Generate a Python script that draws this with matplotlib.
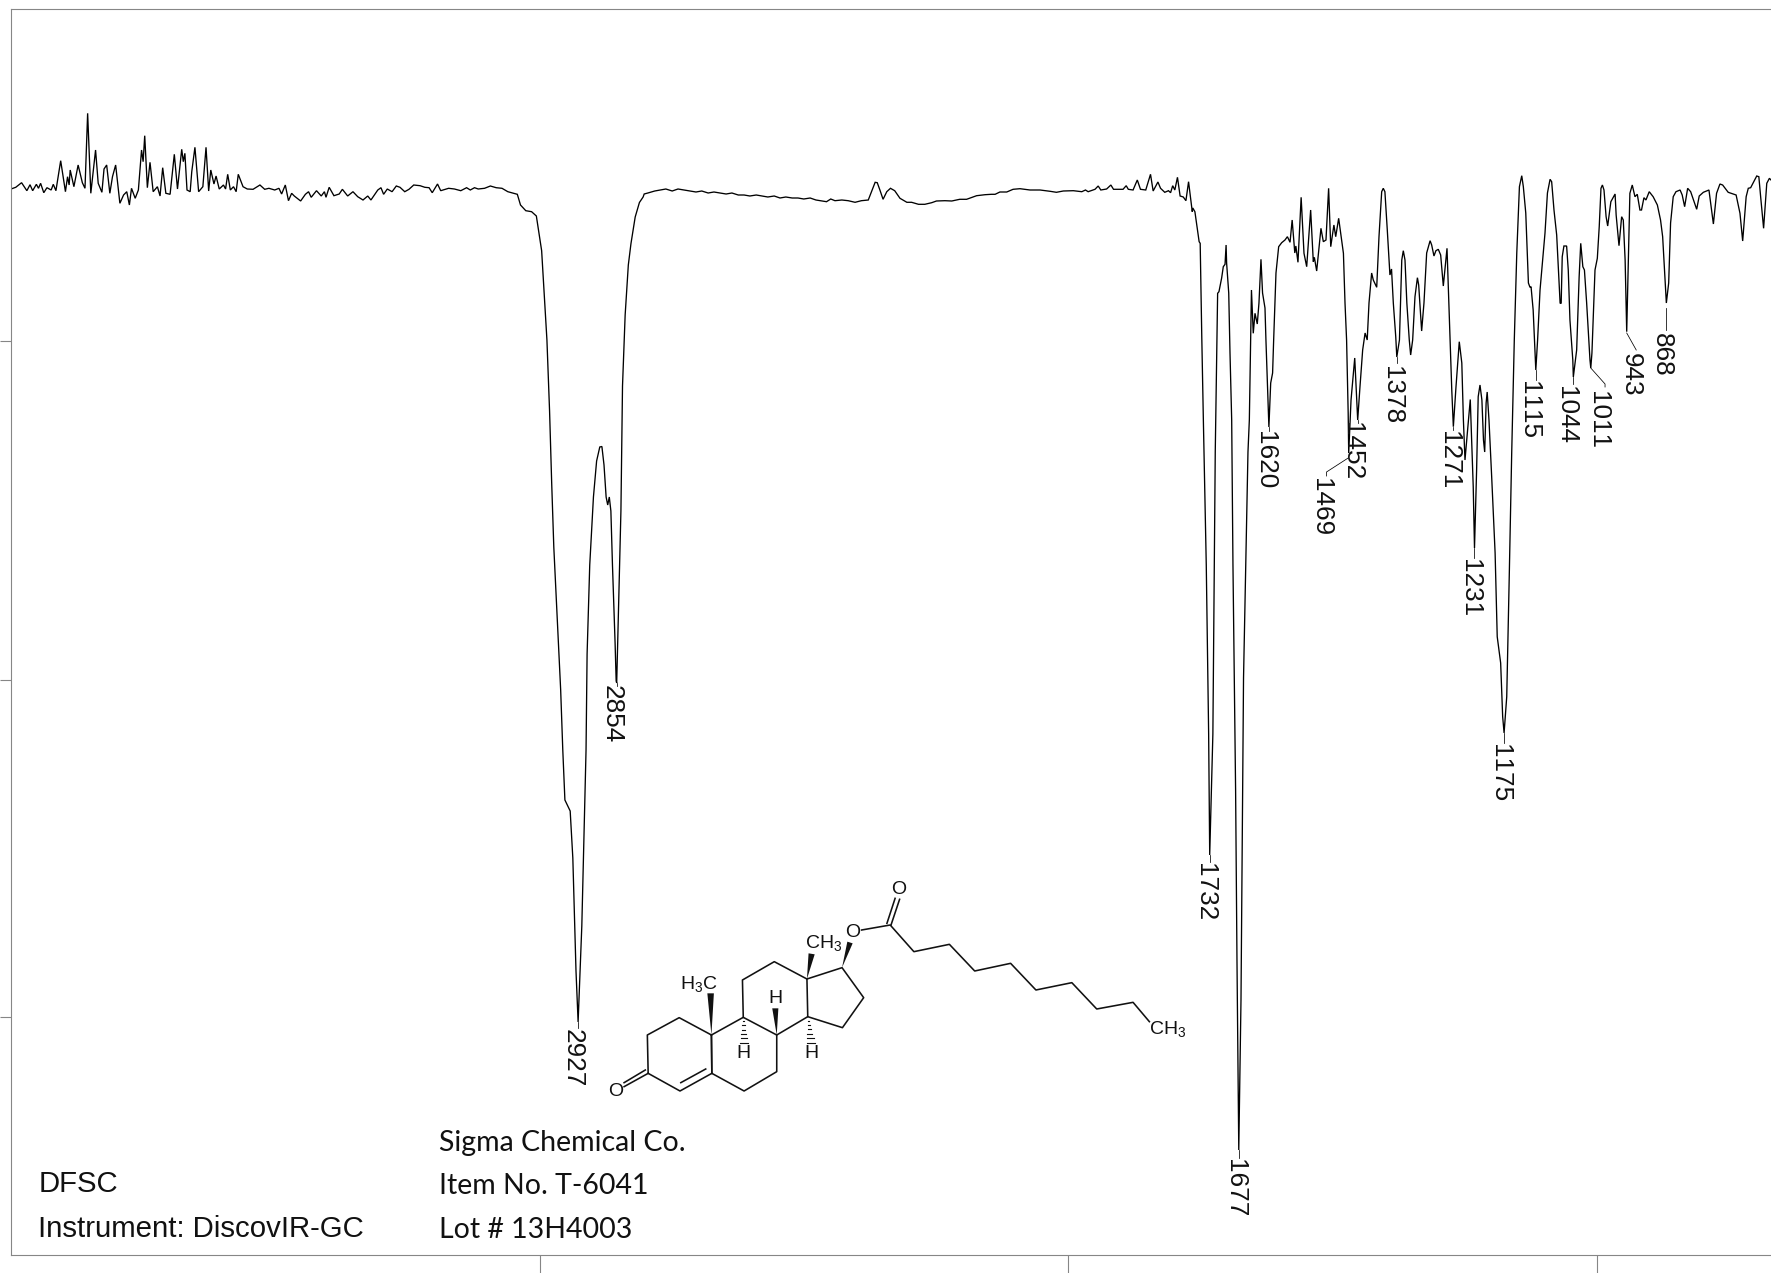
import matplotlib
matplotlib.use('Agg')
import matplotlib.pyplot as plt
import numpy as np

plt.rcParams['font.family'] = ['Liberation Sans', 'DejaVu Sans']
plt.rcParams['mathtext.fontset'] = 'custom'
plt.rcParams['mathtext.rm'] = 'Liberation Sans'
plt.rcParams['mathtext.default'] = 'regular'
plt.rcParams['text.kerning_factor'] = 6

# the scan has no y scale printed, so depth is just measured downward on the page
baseline_wn = [4000, 3991, 3980, 3970, 3964, 3959, 3952, 3948, 3944, 3938, 3932, 3924, 3920, 3915, 3906, 3897,
               3893, 3890, 3888, 3881, 3873, 3865, 3860, 3855, 3849, 3840, 3835, 3828, 3824, 3819, 3813, 3808,
               3802, 3794, 3787, 3781, 3776, 3772, 3765, 3759, 3753, 3750, 3747, 3742, 3737, 3731, 3723, 3718,
               3713, 3707, 3699, 3691, 3685, 3677, 3674, 3671, 3667, 3661, 3658, 3652, 3645, 3637, 3631, 3626,
               3622, 3616, 3612, 3606, 3598, 3594, 3590, 3585, 3579, 3574, 3570, 3561, 3553, 3542, 3529, 3520,
               3512, 3501, 3493, 3488, 3481, 3475, 3469, 3464, 3452, 3443, 3437, 3432, 3422, 3413, 3407, 3404,
               3398, 3389, 3379, 3373, 3363, 3353, 3344, 3334, 3325, 3319, 3306, 3300, 3295, 3288, 3279, 3271,
               3264, 3255, 3247, 3238, 3226, 3217, 3209, 3203, 3193, 3187, 3172, 3161, 3149, 3138, 3131, 3123,
               3116, 3104, 3093, 3082, 3071, 3060, 3042, 3036, 3026, 3015, 3006]
baseline_depth = [189, 187.3, 182.7, 190.7, 184.7, 190.7, 184.3, 188.3, 183.3, 192.7, 187.7, 190, 184.3, 190.7, 160.7, 191.7,
                  176.7, 185, 170, 186.7, 165, 182.7, 188.3, 113.3, 193.3, 150, 183.3, 192.3, 169, 165, 193.3, 176.7,
                  165, 203.3, 195, 191.7, 205, 188.3, 198.3, 190, 150, 161.7, 135.7, 187.7, 162.3, 191.7, 186.7, 196,
                  167.7, 193.3, 194.3, 154.3, 189, 149.3, 161.7, 153.3, 190, 191.7, 171.7, 147.3, 191.7, 186.7, 147.3, 191,
                  170, 184, 176, 189, 185, 189, 174.3, 190, 186.7, 191.7, 174.3, 186.7, 189, 189.3, 185, 189.3,
                  188.3, 190, 188.3, 194, 185, 200.7, 193.3, 196, 201, 194.3, 191.7, 197.3, 190.7, 196, 191.7, 197.3,
                  187.3, 195.7, 194, 189.3, 196, 191.7, 196.7, 200, 196, 200, 190, 187.7, 194.3, 189, 191.7, 186,
                  187.3, 191.7, 189.3, 185, 185.7, 187.3, 187.7, 192.7, 184, 190.7, 188.3, 189, 190.7, 187.7, 190, 187.7,
                  189, 188.3, 186, 187.7, 188.3, 191.7, 194.3, 205, 210.7, 211.7, 216]

ch_wn = [2996, 2992, 2986, 2981, 2977, 2973, 2964, 2960, 2956, 2952, 2942, 2937, 2931, 2927, 2920, 2912, 2910, 2905,
         2898, 2892, 2886, 2882, 2878, 2874, 2871, 2868, 2865, 2862, 2857, 2855, 2854, 2851, 2846, 2843, 2838, 2832,
         2827, 2819, 2811, 2804, 2802, 2795, 2782]
ch_depth = [250.7, 286.4, 340, 411, 483, 547, 647, 690, 750, 800, 811, 858, 971, 1022, 926, 750, 654, 565,
            497, 461, 447, 446.5, 465, 497, 505, 497, 511, 565, 643.6, 681, 683, 618.6, 511, 386, 315, 265,
            243.6, 217, 202.5, 197, 194, 193, 191]

plateau_wn = [2772, 2761, 2749, 2738, 2727, 2715, 2704, 2693, 2681, 2670, 2659, 2647, 2636, 2624, 2613, 2602, 2590,
              2579, 2568, 2556, 2545, 2534, 2522, 2511, 2500, 2488, 2477, 2469, 2457, 2449, 2441, 2428, 2416, 2403,
              2391, 2378, 2372, 2365, 2361, 2356, 2350, 2343, 2336, 2328, 2318, 2305, 2296, 2283, 2271, 2258, 2249,
              2233, 2220, 2205, 2192, 2173, 2157, 2145, 2138, 2129, 2116, 2104, 2091, 2072, 2053, 2034, 2022, 2009,
              1990, 1974, 1967, 1962, 1949, 1943, 1938, 1927, 1919, 1914, 1896, 1890, 1886, 1877, 1869, 1863, 1853,
              1844, 1839, 1830, 1825, 1817, 1810, 1806, 1802, 1798, 1793]
plateau_depth = [190, 189, 191, 189, 190, 191, 192, 191, 193, 192, 193, 194, 193, 195, 195, 196, 195,
                 196, 197, 196, 198, 197, 198, 198, 199, 198, 200, 200.7, 201.7, 199, 200.7, 200, 200.7, 202.3,
                 200.7, 200, 191.7, 182.3, 182.7, 190, 199.3, 191.7, 188.3, 190.7, 198.3, 202.3, 202.3, 204.3, 204.3, 202.7, 201,
                 200.7, 201, 199.3, 199.3, 195.7, 194.7, 194.3, 194.3, 192, 192, 189.3, 188.7, 190, 190, 191.3, 192.3, 191,
                 190.7, 191.7, 190, 191.7, 189.3, 186, 190, 189, 185, 189.3, 189.3, 185.7, 189.3, 190, 180, 189.3, 190,
                 174.3, 191, 182, 188.3, 192.3, 190.7, 192.7, 185.7, 190, 177.3]

finger_wn = [1788, 1782, 1777, 1772, 1765, 1764, 1760, 1752, 1750, 1747, 1744, 1738.5, 1734, 1732, 1726, 1721.5, 1717, 1714.5,
             1709.4, 1706.3, 1703, 1701, 1700, 1696, 1693.6, 1690.4, 1688, 1683, 1680.4, 1677, 1672.8, 1668, 1659.6, 1657, 1653,
             1649.6, 1646.3, 1642, 1638.8, 1635, 1632, 1627.4, 1625.6, 1620, 1616.6, 1613, 1611, 1606.6, 1601.5, 1595.8, 1589.6,
             1585, 1580, 1576, 1571, 1569, 1565, 1559, 1553.6, 1548.5, 1541, 1536, 1534, 1529.6, 1521.5, 1517, 1512, 1507, 1503,
             1497, 1493.6, 1488, 1479, 1476, 1473, 1470, 1469, 1464.6, 1457.6, 1454, 1452, 1447.7, 1442.6, 1438, 1434, 1430.6,
             1425.6, 1422.5, 1416, 1411.7, 1406.6, 1403.6, 1400.5, 1396, 1391, 1388, 1384.6, 1380, 1378, 1373, 1368.6, 1365.7,
             1362.5, 1359, 1354.4, 1351.8, 1348, 1343.6, 1339, 1336.6, 1331, 1326.6, 1321.5, 1315, 1312, 1307.7, 1304, 1299.5,
             1295, 1290, 1283, 1277.4, 1274, 1271, 1266, 1259.8, 1255, 1252, 1249, 1243, 1239, 1233.4, 1231, 1227, 1224, 1220.6,
             1217, 1214, 1211.7, 1209, 1207, 1203.6, 1198.5, 1192, 1188, 1181.5, 1177.7, 1175, 1170, 1165, 1160.6, 1155.7, 1151,
             1146, 1141.6, 1138.6, 1134, 1129, 1126, 1124, 1120, 1115, 1111.6, 1107, 1102, 1097.6, 1093, 1088, 1085, 1080.6,
             1075.5, 1069, 1067, 1065, 1061.8, 1056.7, 1053.6, 1050.4, 1045, 1044, 1037.7, 1033, 1030, 1026, 1023, 1018.8, 1012.5,
             1011, 1008.8, 1003, 998.6, 995, 991.7, 989, 986, 982, 979, 973, 965, 963, 957.6, 952.6, 949.5, 946, 943, 940, 937,
             932.5, 927.4, 923, 918, 915, 910.4, 906.6, 900.4, 893, 885, 879, 875, 868, 863.6, 860, 855, 849.8, 842, 838, 833.4,
             827.7, 822, 810.6, 805.8, 798, 787.4, 779, 773, 766.6, 761.5, 751, 736, 728.7, 723.6, 717, 713, 708.5, 697, 693,
             689.6, 684, 678, 673, 670]
finger_depth = [196, 197, 200.7, 181.7, 211.7, 208, 211.7, 241.7, 243.3, 336.7, 420, 565, 734, 855, 734, 452, 293.3, 291.7,
                278, 266.7, 264.3, 245, 263, 293, 353, 420, 565, 790, 960, 1150, 1000, 678, 452, 420, 290,
                333.3, 313.3, 324, 303, 259.3, 293, 308, 340, 427, 383, 373, 340, 273, 246.7, 242.7, 240,
                236.7, 242.3, 220, 253, 246, 262.3, 197.3, 253.3, 266.7, 210, 261.7, 257.3, 271, 228.3, 241.7, 240, 188.3, 246.7,
                225, 236.7, 218.3, 253.3, 303, 340, 413, 453, 400, 358, 397, 420, 387, 350, 333, 340, 303,
                273, 280, 287.3, 236.7, 191.7, 188.3, 191.7, 230, 275, 269, 303, 336.7, 357, 340, 260, 250.7,
                260, 303, 340, 355, 340, 296.7, 277.7, 285, 331, 303, 253, 240.7, 245, 256, 250.7, 249.3,
                255, 286, 248.3, 336.7, 390, 426.7, 386.7, 341.7, 363, 420, 460, 423, 399.5, 486.7, 548, 470, 396.7, 385,
                400, 440, 452, 403, 392, 420, 476.7, 553, 636.7, 663, 716.7, 733, 696.7, 570, 453, 340, 253,
                186.7, 175.7, 186.7, 213, 283, 287.3, 286.7, 310, 370, 340, 290, 260, 233, 193, 179.3, 181.7, 210,
                235, 303.3, 303.3, 256.7, 246, 246, 270, 320, 360, 377, 350, 276.7, 243.3, 266.7, 270, 303, 360,
                368, 353, 270, 258.3, 226.7, 188.3, 185, 190, 216.7, 226, 201.7, 194, 215, 245.7, 216.7, 220, 260, 331.7, 260, 193.3,
                185, 196.7, 194.3, 210, 210, 197.7, 200, 191.7, 196.7, 205, 220, 236.7, 303, 283, 223, 196.7, 191.7, 190, 195, 206.7,
                188.3, 191.7, 209.3, 196, 192.3, 190, 224, 193.3, 184, 185, 192.3, 195, 213.3, 241, 196.7, 188.3, 187.7, 176, 176.7,
                196.7, 228.3, 183.3, 178.3, 180]

# peak labels: text, x of the label, top of the label, then the leader line
peak_text = ['2927', '2854', '1732', '1677', '1620', '1469', '1452', '1378', '1271', '1231', '1175', '1115', '1044', '1011', '943', '868']
label_wn = [2937, 2864, 1740, 1685, 1628, 1522, 1462, 1387, 1279, 1240, 1183, 1128, 1057, 997, 936, 876]
label_top = [1029, 685, 863, 1159, 431, 478, 422, 366, 431, 559, 744, 381, 386, 391, 353, 333]
leader_wn = [[2927, 2927], [2854, 2854], [1732, 1732], [1677, 1677], [1620, 1620], [1470, 1511, 1511], [1452, 1452], [1378, 1378],
             [1271, 1271], [1231, 1231], [1175, 1175], [1115, 1115], [1044, 1044], [1011, 984, 984], [943, 925], [868, 868]]
leader_depth = [[1022, 1028], [683, 686], [855, 862], [1150, 1158], [427, 431], [458, 472, 476], [420, 423], [357, 363],
                [427, 430], [548, 558], [733, 743], [370, 380], [377, 384], [368, 384, 387], [333, 350], [308, 330]]

wn = baseline_wn + ch_wn + plateau_wn + finger_wn
depth = baseline_depth + ch_depth + plateau_depth + finger_depth

# molecule sketch, traced in its own units
ring_bonds = [[(167, 640), (165, 525), (243, 473), (322, 525), (323, 640), (402, 693), (482, 635), (482, 525), (400, 472), (322, 525)],
              [(323, 640), (322, 525)], [(323, 640), (245, 693), (167, 640)], [(400, 472), (398, 360), (476, 305), (556, 357), (558, 470), (482, 525)],
              [(556, 357), (642, 323), (695, 413), (643, 503), (558, 470)],
              [(247, 668), (308, 627)], [(167, 640), (108, 680)], [(160, 630), (108, 668)],
              [(690, 210), (760, 195), (818, 275), (905, 253), (967, 333), (1055, 310), (1117, 390), (1205, 368), (1266, 447), (1355, 427), (1395, 485)],
              [(762, 195), (783, 118)], [(752, 190), (772, 115)]]
wedges = [[(322, 525), (312, 400), (328, 400)], [(482, 525), (471, 445), (486, 445)], [(556, 357), (560, 280), (575, 283)], [(642, 323), (655, 245), (668, 250)]]
hashes = [((400, 472), (402, 548)), ((558, 470), (566, 548))]
atoms = [('O', 87, 695), ('O', 668, 217), ('O', 782, 90), ('H$_3$C', 292, 372), ('CH$_3$', 597, 250), ('H', 478, 416), ('H', 400, 582), ('H', 566, 580), ('CH$_3$', 1440, 508)]

fig = plt.figure(figsize=(17.71, 12.73), dpi=100)
ax = fig.add_axes([11 / 1771, 18 / 1273, 1760 / 1771, 1246 / 1273])
ax.plot(wn, depth, color='black', lw=0.95, solid_joinstyle='miter')
ax.set_xlim(4000, 670)
ax.set_ylim(1255, 9)
ax.set_xticks([3000, 2000, 1000])
ax.set_yticks([341, 680, 1017])
ax.set_xticklabels([])
ax.set_yticklabels([])
ax.tick_params(axis='x', direction='out', length=13, width=0.8, color='#868686')
ax.tick_params(axis='y', direction='out', length=8, width=0.8, color='#868686')
ax.spines['right'].set_visible(False)
for s in ['left', 'top', 'bottom']:
    ax.spines[s].set_color('#868686')
    ax.spines[s].set_linewidth(0.8)

for i in range(len(peak_text)):
    ax.plot(leader_wn[i], leader_depth[i], color='black', lw=0.55)
    ax.text(label_wn[i], label_top[i], peak_text[i], rotation=270, ha='center', va='top', fontsize=18.8, color='#111111')

ax.text(3948, 1192, 'DFSC', fontsize=21.2, va='baseline', color='#111111')
ax.text(3948, 1237, 'Instrument: DiscovIR-GC', fontsize=21.2, va='baseline', color='#111111')
ax.text(3190, 1151, 'Sigma Chemical Co.', fontsize=20.5, va='baseline', family='Lato', color='#111111')
ax.text(3190, 1194, 'Item No. T-6041', fontsize=20.5, va='baseline', family='Lato', color='#111111')
ax.text(3190, 1238, 'Lot # 13H4003', fontsize=20.5, va='baseline', family='Lato', color='#111111')

mol = fig.add_axes([0, 0, 1, 1])
mol.patch.set_alpha(0)
mol.axis('off')
mol.set_xlim(-580 * 2.45, (1771 - 580) * 2.45)
mol.set_ylim((1273 - 860) * 3, -860 * 3)
for b in ring_bonds:
    mol.plot([p[0] for p in b], [p[1] for p in b], color='#111111', lw=1.15)
for w in wedges:
    mol.fill([p[0] for p in w], [p[1] for p in w], color='#111111', lw=0)
for (a, b) in hashes:
    for t in np.linspace(0.15, 1, 6):
        cx = a[0] + (b[0] - a[0]) * t
        cy = a[1] + (b[1] - a[1]) * t
        mol.plot([cx - 9 * t, cx + 9 * t], [cy, cy], color='#111111', lw=0.8)
for (label, x, y) in atoms:
    mol.text(x, y, label, fontsize=14, ha='center', va='center', color='#111111')

fig.savefig('out.png', dpi=100)
